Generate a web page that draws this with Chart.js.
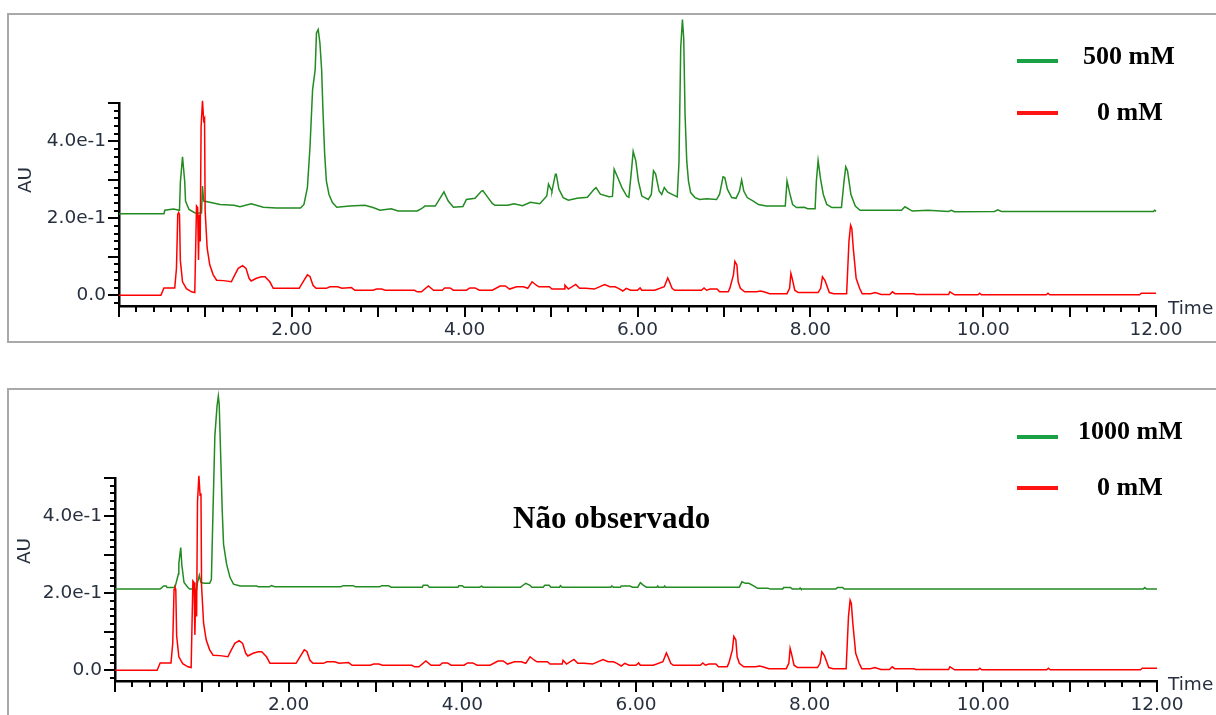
<!DOCTYPE html>
<html lang="pt">

<head>
    <meta charset="UTF-8">
    <title>Cromatogramas</title>
    <script src="https://cdn.jsdelivr.net/npm/chart.js"></script>
    <style>
        body {
            margin: 0;
            width: 1216px;
            height: 715px;
            overflow: hidden;
            background: #fff;
            position: relative;
        }

        .panel {
            position: absolute;
            left: 7px;
            width: 1230px;
            border: 2px solid #a9a9a9;
            box-sizing: border-box;
        }

        canvas {
            position: absolute;
            left: 0;
        }

        .axis-label {
            position: absolute;
            font-family: 'DejaVu Sans', sans-serif;
            font-size: 18.5px;
            line-height: 18px;
            color: #27303f;
            white-space: nowrap;
        }

        .au {
            width: 40px;
            height: 22px;
            line-height: 22px;
            text-align: center;
            transform: rotate(-90deg);
        }

        .legend-line {
            position: absolute;
            left: 1017px;
            width: 41px;
            height: 4px;
        }

        .legend-text,
        .note {
            position: absolute;
            font-family: 'Liberation Serif', 'Times New Roman', serif;
            font-weight: bold;
            color: #000;
            white-space: nowrap;
        }

        .legend-text {
            font-size: 26px;
            line-height: 26px;
        }

        .note {
            font-size: 31px;
            line-height: 31px;
        }
    </style>
</head>

<body>
    <div class="panel" style="top:13px;height:330px"></div>
    <div class="panel" style="top:388px;height:400px"></div>

    <canvas id="chart500" width="1216" height="345" style="top:0"></canvas>
    <canvas id="chart1000" width="1216" height="345" style="top:375px"></canvas>

    <div class="axis-label au" style="left:5px;top:169px">AU</div>
    <div class="axis-label" style="left:1168px;top:299px">Time</div>
    <div class="legend-line" style="top:59px;background:#1aa045"></div>
    <div class="legend-text" style="left:1083px;top:43px">500 mM</div>
    <div class="legend-line" style="top:111px;background:#ff1414"></div>
    <div class="legend-text" style="left:1097px;top:99px">0 mM</div>

    <div class="axis-label au" style="left:4px;top:540px">AU</div>
    <div class="axis-label" style="left:1168px;top:675px">Time</div>
    <div class="legend-line" style="top:435px;background:#1aa045"></div>
    <div class="legend-text" style="left:1078px;top:418px">1000 mM</div>
    <div class="legend-line" style="top:486px;background:#ff1414"></div>
    <div class="legend-text" style="left:1097px;top:474px">0 mM</div>
    <div class="note" style="left:513px;top:502px">Não observado</div>

    <script>
        // Retention time (min) and absorbance (AU) for each run
        const t500 = [
            0, 0.52, 0.53, 0.63, 0.70, 0.71, 0.735, 0.76, 0.77, 0.81,
            0.88, 0.955, 0.966, 0.98, 1.05, 1.17, 1.33, 1.40, 1.53, 1.67,
            1.82, 2.10, 2.14, 2.18, 2.21, 2.24, 2.27, 2.285, 2.305, 2.325,
            2.345, 2.36, 2.38, 2.40, 2.43, 2.47, 2.52, 2.67, 2.845, 2.94,
            3.02, 3.15, 3.23, 3.45, 3.50, 3.54, 3.66, 3.76, 3.81, 3.87,
            3.98, 4.02, 4.12, 4.195, 4.21, 4.27, 4.32, 4.35, 4.50, 4.57,
            4.67, 4.76, 4.87, 4.95, 4.97, 5.00, 5.01, 5.05, 5.06, 5.09,
            5.14, 5.20, 5.30, 5.42, 5.50, 5.52, 5.57, 5.67, 5.71, 5.72,
            5.73, 5.77, 5.82, 5.875, 5.90, 5.93, 5.95, 5.98, 6.01, 6.05,
            6.125, 6.16, 6.185, 6.21, 6.25, 6.28, 6.31, 6.35, 6.395, 6.46,
            6.48, 6.50, 6.52, 6.535, 6.55, 6.57, 6.59, 6.615, 6.665, 6.72,
            6.80, 6.915, 6.95, 6.99, 7.01, 7.04, 7.09, 7.14, 7.18, 7.205,
            7.23, 7.27, 7.34, 7.40, 7.49, 7.71, 7.73, 7.76, 7.795, 7.84,
            7.93, 7.97, 8.055, 8.07, 8.09, 8.12, 8.15, 8.19, 8.25, 8.36,
            8.39, 8.41, 8.43, 8.47, 8.52, 8.575, 9.055, 9.095, 9.18, 9.36,
            9.60, 9.63, 9.67, 10.13, 10.17, 10.21, 10.54, 11.97, 11.985, 12.0
        ];
        const au500 = [
            0.212, 0.212, 0.221, 0.224, 0.221, 0.293, 0.360, 0.297, 0.245, 0.223,
            0.214, 0.214, 0.284, 0.245, 0.242, 0.236, 0.234, 0.230, 0.238, 0.229,
            0.227, 0.227, 0.236, 0.280, 0.385, 0.534, 0.586, 0.682, 0.691, 0.656,
            0.586, 0.481, 0.367, 0.297, 0.262, 0.241, 0.229, 0.232, 0.234, 0.228,
            0.221, 0.225, 0.219, 0.219, 0.225, 0.232, 0.232, 0.269, 0.245, 0.229,
            0.231, 0.249, 0.252, 0.271, 0.272, 0.254, 0.239, 0.234, 0.234, 0.238,
            0.233, 0.242, 0.238, 0.258, 0.289, 0.275, 0.271, 0.315, 0.315, 0.276,
            0.254, 0.247, 0.252, 0.255, 0.276, 0.280, 0.263, 0.256, 0.257, 0.289,
            0.328, 0.307, 0.280, 0.258, 0.255, 0.324, 0.374, 0.350, 0.297, 0.258,
            0.249, 0.262, 0.324, 0.315, 0.271, 0.262, 0.280, 0.268, 0.263, 0.256,
            0.346, 0.643, 0.717, 0.667, 0.472, 0.348, 0.297, 0.267, 0.254, 0.249,
            0.251, 0.249, 0.263, 0.308, 0.306, 0.276, 0.254, 0.252, 0.271, 0.300,
            0.271, 0.254, 0.245, 0.236, 0.232, 0.232, 0.297, 0.267, 0.236, 0.228,
            0.229, 0.225, 0.225, 0.297, 0.350, 0.300, 0.262, 0.236, 0.228, 0.228,
            0.297, 0.334, 0.324, 0.262, 0.232, 0.221, 0.221, 0.230, 0.219, 0.221,
            0.218, 0.221, 0.217, 0.218, 0.222, 0.218, 0.218, 0.218, 0.221, 0.218
        ];

        // 0 mM control, shown in both panels
        const t0 = [
            0, 0.485, 0.52, 0.645, 0.665, 0.68, 0.69, 0.70, 0.71, 0.735,
            0.78, 0.84, 0.877, 0.897, 0.91, 0.92, 0.93, 0.94, 0.95, 0.966,
            0.98, 0.99, 0.997, 1.02, 1.05, 1.09, 1.13, 1.21, 1.30, 1.34,
            1.38, 1.43, 1.47, 1.505, 1.53, 1.59, 1.65, 1.69, 1.745, 1.785,
            2.085, 2.13, 2.18, 2.21, 2.245, 2.28, 2.40, 2.44, 2.53, 2.58,
            2.69, 2.73, 2.94, 2.98, 3.04, 3.08, 3.42, 3.45, 3.50, 3.58,
            3.64, 3.74, 3.77, 3.83, 3.87, 4.02, 4.06, 4.12, 4.17, 4.32,
            4.41, 4.47, 4.52, 4.60, 4.68, 4.73, 4.78, 4.83, 4.86, 4.98,
            5.01, 5.15, 5.16, 5.20, 5.285, 5.33, 5.40, 5.50, 5.62, 5.68,
            5.74, 5.78, 5.83, 5.87, 5.92, 6.00, 6.03, 6.05, 6.20, 6.31,
            6.35, 6.37, 6.40, 6.43, 6.74, 6.77, 6.80, 6.84, 6.92, 6.95,
            7.05, 7.07, 7.11, 7.127, 7.15, 7.165, 7.19, 7.24, 7.38, 7.42,
            7.46, 7.53, 7.73, 7.76, 7.775, 7.79, 7.82, 7.86, 8.09, 8.12,
            8.14, 8.17, 8.22, 8.27, 8.42, 8.447, 8.466, 8.48, 8.497, 8.53,
            8.57, 8.60, 8.70, 8.75, 8.82, 8.92, 8.95, 8.98, 9.20, 9.22,
            9.60, 9.615, 9.67, 9.94, 9.96, 9.98, 10.73, 10.75, 10.77, 11.81,
            11.83, 12.0
        ];
        const au0 = [
            0, 0, 0.019, 0.019, 0.070, 0.210, 0.215, 0.210, 0.090, 0.035,
            0.017, 0.009, 0.007, 0.232, 0.228, 0.092, 0.210, 0.140, 0.438, 0.506,
            0.455, 0.460, 0.219, 0.123, 0.079, 0.053, 0.039, 0.038, 0.035, 0.053,
            0.070, 0.077, 0.070, 0.044, 0.037, 0.044, 0.048, 0.048, 0.035, 0.018,
            0.018, 0.035, 0.053, 0.049, 0.026, 0.018, 0.018, 0.022, 0.022, 0.018,
            0.020, 0.013, 0.013, 0.016, 0.016, 0.013, 0.013, 0.009, 0.009, 0.024,
            0.013, 0.013, 0.019, 0.019, 0.013, 0.013, 0.019, 0.019, 0.013, 0.013,
            0.024, 0.024, 0.016, 0.022, 0.022, 0.018, 0.035, 0.026, 0.022, 0.022,
            0.016, 0.016, 0.026, 0.016, 0.028, 0.018, 0.018, 0.016, 0.028, 0.022,
            0.022, 0.018, 0.011, 0.018, 0.013, 0.013, 0.019, 0.013, 0.013, 0.022,
            0.045, 0.035, 0.018, 0.013, 0.013, 0.019, 0.013, 0.016, 0.016, 0.009,
            0.009, 0.019, 0.053, 0.088, 0.079, 0.035, 0.018, 0.009, 0.009, 0.011,
            0.009, 0.004, 0.004, 0.018, 0.057, 0.044, 0.013, 0.007, 0.007, 0.018,
            0.048, 0.038, 0.007, 0.004, 0.004, 0.140, 0.182, 0.174, 0.122, 0.044,
            0.018, 0.004, 0.004, 0.007, 0.002, 0.002, 0.009, 0.004, 0.004, 0.002,
            0.002, 0.009, 0.001, 0.001, 0.005, 0.001, 0.001, 0.005, 0.001, 0.001,
            0.005, 0.005
        ];

        const t1000 = [
            0, 0.52, 0.56, 0.59, 0.60, 0.69, 0.73, 0.735, 0.757, 0.77,
            0.795, 0.84, 0.86, 0.94, 0.95, 0.971, 0.99, 1.03, 1.09, 1.11,
            1.125, 1.15, 1.175, 1.19, 1.20, 1.22, 1.235, 1.25, 1.285, 1.325,
            1.365, 1.44, 1.63, 1.65, 1.78, 1.80, 1.84, 2.60, 2.63, 2.74,
            2.77, 3.05, 3.07, 3.15, 3.18, 3.54, 3.55, 3.60, 3.62, 3.95,
            3.96, 4.00, 4.02, 4.20, 4.22, 4.24, 4.67, 4.70, 4.73, 4.78,
            4.80, 4.93, 4.95, 5.00, 5.02, 5.12, 5.13, 5.15, 5.71, 5.72,
            5.74, 5.82, 5.83, 5.93, 5.96, 6.02, 6.05, 6.08, 6.10, 6.12,
            6.24, 6.25, 6.26, 6.32, 6.33, 6.34, 7.19, 7.22, 7.26, 7.30,
            7.36, 7.40, 7.52, 7.55, 7.69, 7.70, 7.78, 7.80, 7.88, 7.89,
            7.90, 8.30, 8.32, 8.38, 8.40, 11.84, 11.86, 11.88, 12.0
        ];
        const au1000 = [
            0.211, 0.211, 0.219, 0.219, 0.215, 0.215, 0.250, 0.277, 0.319, 0.273,
            0.228, 0.215, 0.211, 0.211, 0.228, 0.247, 0.228, 0.226, 0.226, 0.236,
            0.380, 0.609, 0.687, 0.713, 0.692, 0.536, 0.414, 0.328, 0.276, 0.241,
            0.224, 0.219, 0.219, 0.217, 0.217, 0.220, 0.217, 0.217, 0.220, 0.220,
            0.217, 0.217, 0.220, 0.220, 0.216, 0.216, 0.221, 0.221, 0.216, 0.216,
            0.220, 0.220, 0.216, 0.216, 0.219, 0.216, 0.216, 0.221, 0.226, 0.221,
            0.216, 0.216, 0.221, 0.221, 0.216, 0.216, 0.220, 0.216, 0.216, 0.219,
            0.216, 0.216, 0.219, 0.219, 0.216, 0.216, 0.228, 0.222, 0.219, 0.216,
            0.216, 0.219, 0.216, 0.216, 0.219, 0.216, 0.216, 0.230, 0.226, 0.226,
            0.219, 0.213, 0.213, 0.211, 0.211, 0.215, 0.215, 0.211, 0.211, 0.214,
            0.211, 0.211, 0.215, 0.215, 0.211, 0.211, 0.215, 0.211, 0.211
        ];

        const xTickValues = [2, 4, 6, 8, 10, 12];
        const xTickLabels = ['2.00', '4.00', '6.00', '8.00', '10.00', '12.00'];
        const yTickValues = [0, 0.2, 0.4];
        const yTickLabels = ['0.0', '2.0e-1', '4.0e-1'];

        const GREEN = '#228b22';
        const RED = '#ff0000';
        const LABEL_COLOR = '#27303f';

        function toPoints(times, values) {
            return times.map((t, i) => ({ x: t, y: values[i] }));
        }

        // Minor/major tick marks drawn along both axes
        const tickMarks = {
            id: 'tickMarks',
            afterDraw(chart) {
                const { ctx } = chart;
                const x = chart.scales.x;
                const y = chart.scales.y;
                ctx.save();
                ctx.strokeStyle = '#000';
                ctx.lineWidth = 2;
                ctx.beginPath();
                for (let i = 0; i <= 60; i++) {
                    const px = Math.round(x.getPixelForValue(i / 5));
                    const len = i % 5 === 0 ? 11 : 6;
                    ctx.moveTo(px, x.top);
                    ctx.lineTo(px, x.top + len);
                }
                for (let i = -1; i <= 25; i++) {
                    const py = Math.round(y.getPixelForValue(i / 50));
                    const len = i % 5 === 0 ? 11 : 5;
                    ctx.moveTo(y.right, py);
                    ctx.lineTo(y.right - len, py);
                }
                ctx.stroke();
                ctx.restore();
            }
        };

        function makeChart(canvasId, greenPoints, axisLeft, axisRight) {
            const ctx = document.getElementById(canvasId).getContext('2d');
            return new Chart(ctx, {
                type: 'line',
                data: {
                    datasets: [
                        {
                            label: '0 mM',
                            data: toPoints(t0, au0),
                            borderColor: RED,
                            borderWidth: 1.5,
                            pointRadius: 0,
                            clip: false,
                        },
                        {
                            label: 'amostra',
                            data: greenPoints,
                            borderColor: GREEN,
                            borderWidth: 1.5,
                            pointRadius: 0,
                            clip: false,
                        },
                    ],
                },
                options: {
                    responsive: false,
                    animation: false,
                    events: [],
                    layout: {
                        padding: { left: 0, right: 1216 - axisRight, top: 103, bottom: 0 },
                    },
                    plugins: {
                        legend: { display: false },
                        tooltip: { enabled: false },
                    },
                    scales: {
                        x: {
                            type: 'linear',
                            min: 0,
                            max: 12,
                            afterFit: scale => { scale.height = 39; },
                            afterBuildTicks: scale => {
                                scale.ticks = xTickValues.map(v => ({ value: v }));
                            },
                            border: { color: '#000', width: 2.5 },
                            grid: { drawOnChartArea: false, tickLength: 11, tickColor: 'rgba(0,0,0,0)' },
                            ticks: {
                                autoSkip: false,
                                maxRotation: 0,
                                padding: 2,
                                color: LABEL_COLOR,
                                font: { family: 'DejaVu Sans', size: 18.5 },
                                callback: (value, index) => xTickLabels[index],
                            },
                        },
                        y: {
                            min: -0.028,
                            max: 0.5,
                            afterFit: scale => { scale.width = axisLeft; },
                            afterBuildTicks: scale => {
                                scale.ticks = yTickValues.map(v => ({ value: v }));
                            },
                            border: { color: '#000', width: 2.5 },
                            grid: { drawOnChartArea: false, tickLength: 11, tickColor: 'rgba(0,0,0,0)' },
                            ticks: {
                                padding: 2,
                                color: LABEL_COLOR,
                                font: { family: 'DejaVu Sans', size: 18.5 },
                                callback: (value, index) => yTickLabels[index],
                            },
                        },
                    },
                },
                plugins: [tickMarks],
            });
        }

        makeChart('chart500', toPoints(t500, au500), 119, 1156);
        makeChart('chart1000', toPoints(t1000, au1000), 115, 1157);
    </script>
</body>

</html>
